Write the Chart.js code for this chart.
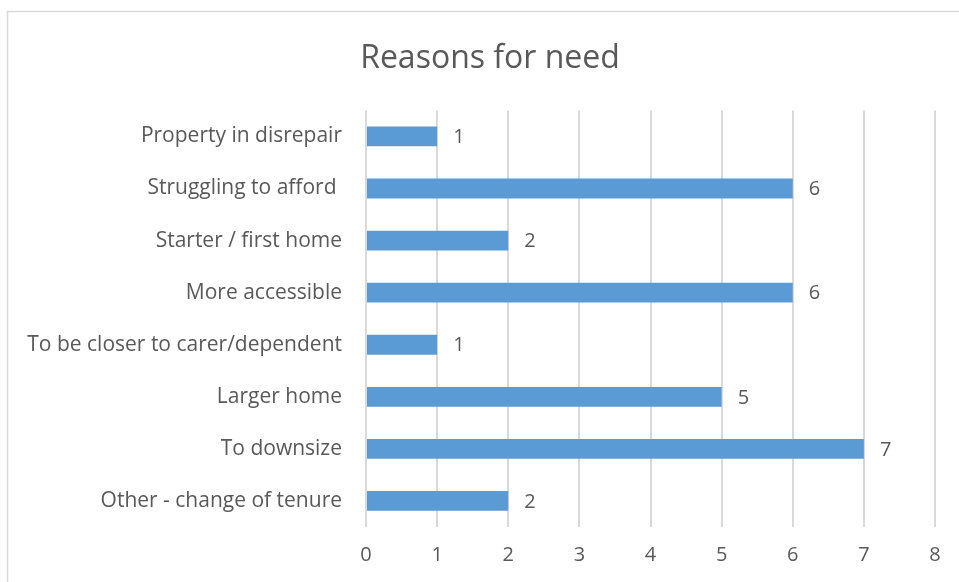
<!DOCTYPE html>
<html>
<head>
<meta charset="utf-8">
<script src="https://cdn.jsdelivr.net/npm/chart.js@4"></script>
<style>
  html, body { margin: 0; background: #fff; overflow: hidden; }
  #wrap { width: 959px; height: 582px; position: relative; }
</style>
</head>
<body>
<div id="wrap"><canvas id="myChart"></canvas></div>
<script>
const labels = [
  "Property in disrepair",
  "Struggling to afford ",
  "Starter / first home",
  "More accessible",
  "To be closer to carer/dependent",
  "Larger home",
  "To downsize",
  "Other - change of tenure"
];
const values = [1, 6, 2, 6, 1, 5, 7, 2];
const xTicks = [0, 1, 2, 3, 4, 5, 6, 7, 8];

const textColor = '#595959';
const fontFamily = "'Open Sans', 'Noto Sans', sans-serif";

// frame round the chart, like the office chart border
const framePlugin = {
  id: 'frame',
  beforeDraw(chart) {
    const ctx = chart.ctx;
    ctx.save();
    ctx.strokeStyle = '#d9d9d9';
    ctx.lineWidth = 1.5;
    ctx.strokeRect(7.5, 11.5, chart.width + 20, chart.height + 20);
    ctx.restore();
  },
  // the original title sits a bit right of the canvas middle
  afterLayout(chart) {
    if (chart.titleBlock) chart.titleBlock.left = 45;
  }
};

// value next to each bar end
const valueLabels = {
  id: 'valueLabels',
  afterDatasetsDraw(chart) {
    const ctx = chart.ctx;
    const meta = chart.getDatasetMeta(0);
    ctx.save();
    ctx.fillStyle = textColor;
    ctx.font = "20px " + fontFamily;
    ctx.textAlign = 'left';
    ctx.textBaseline = 'middle';
    meta.data.forEach((bar, i) => {
      ctx.fillText(values[i], bar.x + 16, bar.y + 1);
    });
    ctx.restore();
  }
};

const data = {
  labels: labels,
  datasets: [{
    label: 'Reasons',
    backgroundColor: '#5b9bd5',
    data: values,
    barPercentage: 0.76,
    categoryPercentage: 0.5
  }]
};

const config = {
  type: 'bar',
  data: data,
  plugins: [framePlugin, valueLabels],
  options: {
    indexAxis: 'y',
    responsive: true,
    maintainAspectRatio: false,
    animation: false,
    layout: { padding: { left: 0, right: 24, top: 0, bottom: 0 } },
    plugins: {
      legend: { display: false },
      tooltip: { enabled: false },
      title: {
        display: true,
        text: 'Reasons for need',
        color: textColor,
        font: { family: fontFamily, size: 32, weight: 'normal' },
        padding: { top: 40, bottom: 32 }
      }
    },
    scales: {
      x: {
        min: 0,
        max: 8,
        afterBuildTicks: (scale) => { scale.ticks = xTicks.map(v => ({ value: v })); },
        afterFit: (scale) => { scale.height = 55; },
        grid: { color: '#d9d9d9', lineWidth: 2, drawTicks: false },
        border: { display: false },
        ticks: { color: textColor, font: { family: fontFamily, size: 20 }, padding: 16 }
      },
      y: {
        afterFit: (scale) => { scale.width = 366; },
        grid: { display: false, drawTicks: false },
        border: { display: false },
        ticks: { color: textColor, font: { family: fontFamily, size: 21 }, padding: 24 }
      }
    }
  }
};

const myChart = new Chart(document.getElementById('myChart'), config);
</script>
</body>
</html>
